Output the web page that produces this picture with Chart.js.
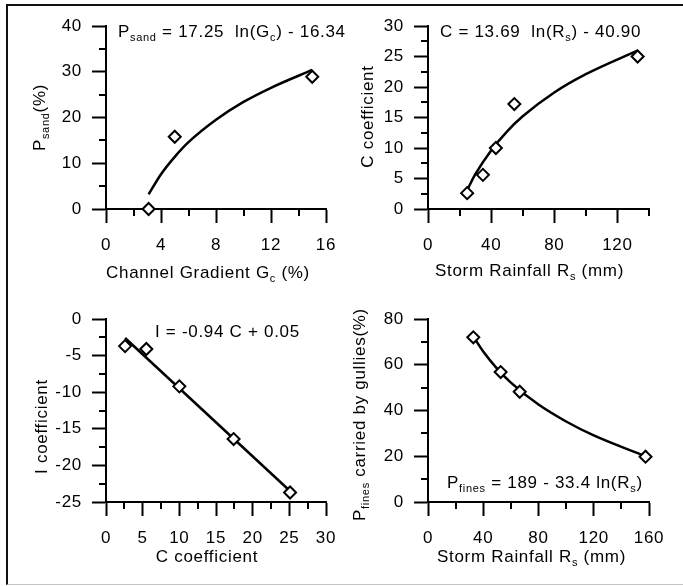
<!DOCTYPE html>
<html><head><meta charset="utf-8">
<script src="https://cdn.jsdelivr.net/npm/chart.js@4.4.1/dist/chart.umd.min.js"></script>
<style>
html,body{margin:0;padding:0;background:#fff;}
#wrap{position:relative;width:683px;height:586px;overflow:hidden;background:#fff;}
#frame{position:absolute;left:6px;top:4px;width:680px;height:578px;border-top:2px solid #111;border-left:2px solid #111;border-bottom:1px solid #c4c4c4;}
canvas{position:absolute;left:0;top:0;}
</style></head><body>
<div id="wrap"><div id="frame"></div>
<canvas id="c1" width="683" height="586"></canvas>
<canvas id="c2" width="683" height="586"></canvas>
<canvas id="c3" width="683" height="586"></canvas>
<canvas id="c4" width="683" height="586"></canvas>
</div>
<script>
// ---------- DATA ----------
// Panel 1: sand fraction vs channel gradient
const p1Gradient = [3.1, 5.0, 15.0];
const p1Sand = [0, 15.8, 28.9];
const p1FitGradient = [3.1, 4, 5, 6, 8, 10, 12, 15];
const p1FitSand = [3.2, 7.6, 11.4, 14.6, 19.5, 23.4, 26.5, 30.4];
const p1XTicks = [0, 4, 8, 12, 16];
const p1XMinor = [2, 6, 10, 14];
const p1YTicks = [0, 10, 20, 30, 40];
const p1YMinor = [5, 15, 25, 35];

// Panel 2: C coefficient vs storm rainfall
const p2Rain = [24.8, 34.8, 43.0, 54.7, 132.8];
const p2C = [2.6, 5.6, 10.0, 17.2, 25.0];
const p2FitRain = [25, 30, 40, 50, 60, 80, 100, 133];
const p2FitC = [3.2, 5.7, 9.6, 12.7, 15.2, 19.1, 22.1, 26.0];
const p2XTicks = [0, 40, 80, 120];
const p2XMinor = [20, 60, 100, 140];
const p2YTicks = [0, 5, 10, 15, 20, 25, 30];
const p2YMinor = [2.5, 7.5, 12.5, 17.5, 22.5, 27.5];

// Panel 3: I coefficient vs C coefficient
const p3C = [2.6, 5.5, 10.0, 17.4, 25.1];
const p3I = [-3.7, -4.1, -9.2, -16.4, -23.7];
const p3FitC = [2.6, 25.2];
const p3FitI = [-2.6, -23.6];
const p3XTicks = [0, 5, 10, 15, 20, 25, 30];
const p3XMinor = [2.5, 7.5, 12.5, 17.5, 22.5, 27.5];
const p3YTicks = [-25, -20, -15, -10, -5, 0];
const p3YMinor = [-22.5, -17.5, -12.5, -7.5, -2.5];

// Panel 4: fines carried by gullies vs storm rainfall
const p4Rain = [32.8, 52.6, 66.4, 157.5];
const p4Fines = [72.0, 56.8, 48.2, 19.8];
const p4FitRain = [33, 40, 50, 60, 80, 100, 120, 157];
const p4FitFines = [72.2, 65.8, 58.3, 52.2, 42.6, 35.2, 29.1, 20.1];
const p4XTicks = [0, 40, 80, 120, 160];
const p4XMinor = [20, 60, 100, 140];
const p4YTicks = [0, 20, 40, 60, 80];
const p4YMinor = [10, 30, 50, 70];

// Texts (segments: [text, isSubscript])
const p1XTitle = [["Channel Gradient G", 0], ["c", 1], [" (%)", 0]];
const p1YTitle = [["P", 0], ["sand", 1], ["(%)", 0]];
const p1Eq = [["P", 0], ["sand", 1], [" = 17.25  ln(G", 0], ["c", 1], [") - 16.34", 0]];
const p2XTitle = [["Storm Rainfall R", 0], ["s", 1], [" (mm)", 0]];
const p2YTitle = [["C coefficient", 0]];
const p2Eq = [["C = 13.69  ln(R", 0], ["s", 1], [") - 40.90", 0]];
const p3XTitle = [["C coefficient", 0]];
const p3YTitle = [["I coefficient", 0]];
const p3Eq = [["I = -0.94 C + 0.05", 0]];
const p4XTitle = [["Storm Rainfall R", 0], ["s", 1], [" (mm)", 0]];
const p4YTitle = [["P", 0], ["fines", 1], [" carried by gullies(%)", 0]];
const p4Eq = [["P", 0], ["fines", 1], [" = 189 - 33.4 ln(R", 0], ["s", 1], [")", 0]];

// ---------- RENDERING ----------
const FONT = '"Liberation Sans", Arial, sans-serif';
const FS = 17, SUB = 11, LS = '0.7px';

function richWidth(ctx, segs) {
  let w = 0;
  segs.forEach(([t, s]) => { ctx.font = (s ? SUB : FS) + 'px ' + FONT; w += ctx.measureText(t).width; });
  return w;
}
function drawRich(ctx, segs, x, y, align, rot) {
  ctx.save();
  ctx.letterSpacing = LS;
  ctx.fillStyle = '#000';
  ctx.textBaseline = 'alphabetic';
  ctx.textAlign = 'left';
  ctx.translate(x, y);
  if (rot) ctx.rotate(-Math.PI / 2);
  const w = richWidth(ctx, segs);
  let cx = align === 'center' ? -w / 2 : 0;
  segs.forEach(([t, s]) => {
    ctx.font = (s ? SUB : FS) + 'px ' + FONT;
    ctx.fillText(t, cx, s ? 4 : 0);
    cx += ctx.measureText(t).width;
  });
  ctx.restore();
}

const extras = {};
const extrasPlugin = {
  id: 'extras',
  beforeDraw(chart) { chart.ctx.letterSpacing = LS; },
  afterDraw(chart) {
    const e = extras[chart.canvas.id];
    const ctx = chart.ctx, xs = chart.scales.x, ys = chart.scales.y, a = chart.chartArea;
    ctx.save();
    ctx.strokeStyle = '#000'; ctx.lineWidth = 2;
    ctx.beginPath();
    e.xMinor.forEach(v => { const p = Math.round(xs.getPixelForValue(v)); ctx.moveTo(p, a.bottom); ctx.lineTo(p, a.bottom + 7); });
    e.yMinor.forEach(v => { const p = Math.round(ys.getPixelForValue(v)); ctx.moveTo(a.left - 7, p); ctx.lineTo(a.left, p); });
    ctx.stroke();
    ctx.restore();
    const cxm = (a.left + a.right) / 2, cym = (a.top + a.bottom) / 2;
    drawRich(ctx, e.xTitle, cxm + e.xt[0], a.bottom + e.xt[1], 'center', false);
    drawRich(ctx, e.yTitle, a.left + e.yt[0], cym + e.yt[1], 'center', true);
    drawRich(ctx, e.eq, a.left + e.eqPos[0], a.top + e.eqPos[1], 'left', false);
  }
};

function axis(pos, min, max, ticks, pad, fit) {
  return {
    type: 'linear', position: pos, min: min, max: max,
    afterBuildTicks: s => { s.ticks = ticks.map(v => ({ value: v })); },
    afterFit: s => { if (pos === 'left') s.width = fit; else s.height = fit; },
    grid: { display: true, drawOnChartArea: false, drawTicks: true, tickLength: 14, tickWidth: 2, tickColor: '#000' },
    border: { display: true, color: '#000', width: 2 },
    ticks: { color: '#000', font: { family: FONT, size: FS }, padding: pad, autoSkip: false, maxRotation: 0, callback: v => String(v) },
    title: { display: false }
  };
}

function panel(id, cfg) {
  const FIT = 50, ar = cfg.area;
  extras[id] = cfg;
  new Chart(document.getElementById(id), {
    type: 'scatter',
    data: {
      datasets: [
        { data: cfg.fitX.map((x, i) => ({ x: x, y: cfg.fitY[i] })), showLine: true, borderColor: '#000', borderWidth: 2.5,
          pointRadius: 0, cubicInterpolationMode: 'monotone', fill: false, order: 2, clip: false },
        { data: cfg.x.map((x, i) => ({ x: x, y: cfg.y[i] })), showLine: false, pointStyle: 'rectRot', pointRadius: 6,
          pointBorderWidth: 2, pointBackgroundColor: '#fff', pointBorderColor: '#000', order: 1, clip: false }
      ]
    },
    options: {
      responsive: false, animation: false, events: [],
      layout: { padding: { left: ar.left - FIT, top: ar.top, right: 683 - ar.right, bottom: 586 - ar.bottom - FIT } },
      plugins: { legend: { display: false }, tooltip: { enabled: false } },
      scales: {
        x: axis('bottom', cfg.xr[0], cfg.xr[1], cfg.xTicks, 12, FIT),
        y: axis('left', cfg.yr[0], cfg.yr[1], cfg.yTicks, 10, FIT)
      }
    },
    plugins: [extrasPlugin]
  });
}

panel('c1', { area: { left: 106, top: 26, right: 326, bottom: 209 },
  x: p1Gradient, y: p1Sand, fitX: p1FitGradient, fitY: p1FitSand,
  xr: [0, 16], yr: [0, 40], xTicks: p1XTicks, yTicks: p1YTicks, xMinor: p1XMinor, yMinor: p1YMinor,
  xTitle: p1XTitle, yTitle: p1YTitle, eq: p1Eq, xt: [-8, 69], yt: [-61, 0], eqPos: [12, 11] });

panel('c2', { area: { left: 428, top: 26, right: 649, bottom: 209 },
  x: p2Rain, y: p2C, fitX: p2FitRain, fitY: p2FitC,
  xr: [0, 140], yr: [0, 30], xTicks: p2XTicks, yTicks: p2YTicks, xMinor: p2XMinor, yMinor: p2YMinor,
  xTitle: p2XTitle, yTitle: p2YTitle, eq: p2Eq, xt: [-9, 67], yt: [-55, -1], eqPos: [12, 11] });

panel('c3', { area: { left: 106, top: 319, right: 326, bottom: 502 },
  x: p3C, y: p3I, fitX: p3FitC, fitY: p3FitI,
  xr: [0, 30], yr: [-25, 0], xTicks: p3XTicks, yTicks: p3YTicks, xMinor: p3XMinor, yMinor: p3YMinor,
  xTitle: p3XTitle, yTitle: p3YTitle, eq: p3Eq, xt: [-9, 60], yt: [-59, 16], eqPos: [49, 18] });

panel('c4', { area: { left: 428, top: 319, right: 649, bottom: 502 },
  x: p4Rain, y: p4Fines, fitX: p4FitRain, fitY: p4FitFines,
  xr: [0, 160], yr: [0, 80], xTicks: p4XTicks, yTicks: p4YTicks, xMinor: p4XMinor, yMinor: p4YMinor,
  xTitle: p4XTitle, yTitle: p4YTitle, eq: p4Eq, xt: [-7, 60], yt: [-63, 4], eqPos: [19, 169] });
</script>
</body></html>
